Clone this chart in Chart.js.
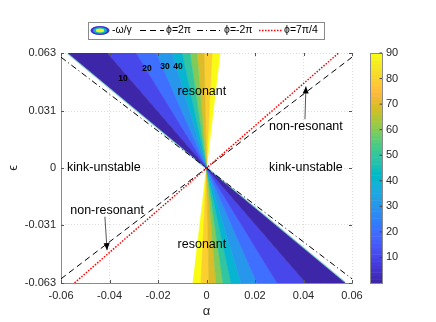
<!DOCTYPE html>
<html>
<head>
<meta charset="utf-8">
<script src="https://cdn.jsdelivr.net/npm/chart.js@4/dist/chart.umd.min.js"></script>
<style>
  html, body { margin: 0; padding: 0; background: #fff; }
  #wrap { width: 436px; height: 322px; }
</style>
</head>
<body>
<div id="wrap"><canvas id="growth" width="436" height="322"></canvas></div>
<script>
// -ω/γ contour levels; edgeAlpha = α where each band edge meets ε = 0.063
// (the lower wedge is the point mirror of the upper one)
const levels = [0, 10, 20, 30, 40, 50, 60, 70, 80, 90];
const edgeAlpha = [-0.0571, -0.0410, -0.0291, -0.0208, -0.0142, -0.0101, -0.0068, -0.0039, -0.0010, 0.0023, 0.0056];
const epsTop = 0.063;

// phase lines eps(alpha)
const lineAlpha = [-0.06, 0.06];
const phi2pi = [-0.0607, 0.0607];
const phiMinus2pi = [0.0607, -0.0607];
const phi7pi4 = [-0.0694, 0.0694];

const xTicks = [-0.06, -0.04, -0.02, 0, 0.02, 0.04, 0.06];
const yTicks = [-0.063, -0.031, 0, 0.031, 0.063];
const yTickLabels = ["-0.063", "-0.031", "0", "0.031", "0.063"];
const cbTicks = [10, 20, 30, 40, 50, 60, 70, 80, 90];
const cbMax = 90;

const legendLabels = ["-ω/γ", "ϕ=2π", "ϕ=-2π", "ϕ=7π/4"];

const notes = [
  { text: "resonant", x: -0.0019, y: 0.0421 },
  { text: "resonant", x: -0.0019, y: -0.0421 },
  { text: "non-resonant", x: 0.041, y: 0.0228 },
  { text: "non-resonant", x: -0.041, y: -0.0234 },
  { text: "kink-unstable", x: -0.0423, y: 0 },
  { text: "kink-unstable", x: 0.041, y: 0 },
];
const contourLabels = [
  { text: "10", x: -0.0344, y: 0.0487 },
  { text: "20", x: -0.0245, y: 0.0542 },
  { text: "30", x: -0.0171, y: 0.0553 },
  { text: "40", x: -0.0118, y: 0.0553 },
];
const arrows = [
  { from: [0.0406, 0.0267], to: [0.041, 0.0447] },
  { from: [-0.0419, -0.0267], to: [-0.041, -0.0450] },
];

// parula, 64 entries
const parulaMap = [
  [0.2422,0.1504,0.6603],[0.2504,0.1650,0.7076],[0.2578,0.1818,0.7511],[0.2647,0.1978,0.7952],
  [0.2706,0.2147,0.8364],[0.2751,0.2342,0.8710],[0.2783,0.2559,0.8991],[0.2803,0.2782,0.9221],
  [0.2813,0.3006,0.9414],[0.2810,0.3228,0.9579],[0.2795,0.3447,0.9717],[0.2760,0.3667,0.9829],
  [0.2699,0.3892,0.9906],[0.2602,0.4123,0.9952],[0.2440,0.4358,0.9988],[0.2206,0.4603,0.9973],
  [0.1963,0.4847,0.9892],[0.1834,0.5074,0.9798],[0.1786,0.5289,0.9682],[0.1764,0.5499,0.9520],
  [0.1687,0.5703,0.9359],[0.1540,0.5902,0.9218],[0.1460,0.6091,0.9079],[0.1380,0.6276,0.8973],
  [0.1248,0.6459,0.8883],[0.1113,0.6635,0.8763],[0.0952,0.6798,0.8598],[0.0689,0.6948,0.8394],
  [0.0297,0.7082,0.8163],[0.0036,0.7203,0.7917],[0.0067,0.7312,0.7660],[0.0433,0.7411,0.7394],
  [0.0964,0.7500,0.7120],[0.1408,0.7584,0.6842],[0.1717,0.7670,0.6554],[0.1938,0.7758,0.6251],
  [0.2161,0.7843,0.5923],[0.2470,0.7918,0.5567],[0.2906,0.7973,0.5188],[0.3406,0.8008,0.4789],
  [0.3909,0.8029,0.4354],[0.4456,0.8024,0.3909],[0.5044,0.7993,0.3480],[0.5616,0.7942,0.3045],
  [0.6174,0.7876,0.2612],[0.6720,0.7793,0.2227],[0.7242,0.7698,0.1910],[0.7738,0.7598,0.1646],
  [0.8203,0.7498,0.1535],[0.8634,0.7406,0.1596],[0.9035,0.7330,0.1774],[0.9393,0.7288,0.2100],
  [0.9728,0.7298,0.2394],[0.9956,0.7434,0.2371],[0.9970,0.7659,0.2199],[0.9952,0.7893,0.2028],
  [0.9892,0.8136,0.1885],[0.9786,0.8386,0.1766],[0.9676,0.8639,0.1643],[0.9610,0.8890,0.1537],
  [0.9597,0.9135,0.1423],[0.9628,0.9373,0.1265],[0.9691,0.9606,0.1064],[0.9769,0.9839,0.0805]
];
function parula(t) {
  const i = Math.max(0, Math.min(63, Math.round(t * 63)));
  const c = parulaMap[i];
  return "rgb(" + c.map(v => Math.round(v * 255)).join(",") + ")";
}

const FONT = "'Liberation Sans', Arial, Helvetica, sans-serif";
const TXT = "#262626";

const bandSets = levels.map((lv, k) => {
  const a0 = edgeAlpha[k], a1 = edgeAlpha[k + 1];
  const c = parula(lv / cbMax);
  return {
    data: [
      { x: 0, y: 0 }, { x: a0, y: epsTop }, { x: a1, y: epsTop }, { x: 0, y: 0 },
      { x: -a0, y: -epsTop }, { x: -a1, y: -epsTop }, { x: 0, y: 0 },
    ],
    showLine: true,
    fill: "shape",
    backgroundColor: c,
    borderColor: c,
    borderWidth: 0.6,
    pointRadius: 0,
    order: 10,
  };
});

// light fringe along the outer edge of the unstable wedge (drawn under the bands)
const fringeSet = {
  data: [
    { x: edgeAlpha[0], y: epsTop }, { x: 0, y: 0 }, { x: -edgeAlpha[0], y: -epsTop },
  ],
  showLine: true,
  fill: false,
  borderColor: "rgba(110,200,190,0.8)",
  borderWidth: 2.6,
  pointRadius: 0,
  order: 11,
};

function lineSet(ys, color, dash, width) {
  return {
    data: lineAlpha.map((a, i) => ({ x: a, y: ys[i] })),
    showLine: true,
    fill: false,
    borderColor: color,
    borderDash: dash,
    borderWidth: width,
    pointRadius: 0,
    order: 1,
  };
}

const extras = {
  id: "extras",
  afterDraw(chart) {
    const ctx = chart.ctx;
    const xs = chart.scales.x, ys = chart.scales.y;
    const area = chart.chartArea;
    ctx.save();

    // inward tick marks on all four sides
    ctx.strokeStyle = "#555";
    ctx.lineWidth = 1;
    ctx.beginPath();
    xTicks.forEach(v => {
      const px = Math.round(xs.getPixelForValue(v)) + 0.5;
      ctx.moveTo(px, area.bottom); ctx.lineTo(px, area.bottom - 3);
      ctx.moveTo(px, area.top); ctx.lineTo(px, area.top + 3);
    });
    yTicks.forEach(v => {
      const py = Math.round(ys.getPixelForValue(v)) + 0.5;
      ctx.moveTo(area.left, py); ctx.lineTo(area.left + 3, py);
      ctx.moveTo(area.right, py); ctx.lineTo(area.right - 3, py);
    });
    ctx.stroke();

    // text notes
    ctx.fillStyle = "#000";
    ctx.textAlign = "center";
    ctx.textBaseline = "middle";
    ctx.font = "12.5px " + FONT;
    notes.forEach(n => ctx.fillText(n.text, xs.getPixelForValue(n.x), ys.getPixelForValue(n.y)));
    ctx.font = "bold 8.5px " + FONT;
    contourLabels.forEach(n => ctx.fillText(n.text, xs.getPixelForValue(n.x), ys.getPixelForValue(n.y)));

    // arrows
    arrows.forEach(a => {
      const x0 = xs.getPixelForValue(a.from[0]), y0 = ys.getPixelForValue(a.from[1]);
      const x1 = xs.getPixelForValue(a.to[0]), y1 = ys.getPixelForValue(a.to[1]);
      const ang = Math.atan2(y1 - y0, x1 - x0);
      ctx.strokeStyle = "#555";
      ctx.lineWidth = 1;
      ctx.beginPath(); ctx.moveTo(x0, y0); ctx.lineTo(x1, y1); ctx.stroke();
      ctx.fillStyle = "#000";
      ctx.beginPath();
      ctx.moveTo(x1, y1);
      ctx.lineTo(x1 - 7 * Math.cos(ang) + 3 * Math.sin(ang), y1 - 7 * Math.sin(ang) - 3 * Math.cos(ang));
      ctx.lineTo(x1 - 7 * Math.cos(ang) - 3 * Math.sin(ang), y1 - 7 * Math.sin(ang) + 3 * Math.cos(ang));
      ctx.closePath(); ctx.fill();
    });

    // colorbar
    const cbL = area.right + 18, cbW = 12, cbT = area.top, cbB = area.bottom;
    const n = parulaMap.length;
    const h = (cbB - cbT) / n;
    for (let i = 0; i < n; i++) {
      ctx.fillStyle = parula(i / (n - 1));
      ctx.fillRect(cbL, cbB - (i + 1) * h, cbW, h + 0.5);
    }
    ctx.strokeStyle = "#8a8a8a";
    ctx.strokeRect(cbL + 0.5, cbT + 0.5, cbW, cbB - cbT);
    ctx.fillStyle = TXT;
    ctx.font = "11px " + FONT;
    ctx.textAlign = "left";
    ctx.strokeStyle = "#444";
    cbTicks.forEach(v => {
      const py = cbB - (v / cbMax) * (cbB - cbT);
      ctx.beginPath(); ctx.moveTo(cbL + cbW, py); ctx.lineTo(cbL + cbW - 2.5, py); ctx.stroke();
      ctx.fillText(String(v), cbL + cbW + 4, py);
    });

    // legend
    const lx = 88, ly = 22, lw = 236, lh = 17, cy = ly + lh / 2;
    ctx.fillStyle = "#fff";
    ctx.fillRect(lx, ly, lw, lh);
    ctx.strokeStyle = "#8a8a8a";
    ctx.lineWidth = 1;
    ctx.strokeRect(lx + 0.5, ly + 0.5, lw, lh);
    const ell = [[9.5, 4.6, parula(0.05)], [7, 3.2, parula(0.45)], [4.2, 1.9, parula(0.97)]];
    ell.forEach(e => {
      ctx.fillStyle = e[2];
      ctx.beginPath(); ctx.ellipse(100, cy, e[0], e[1], 0, 0, Math.PI * 2); ctx.fill();
    });
    ctx.font = "10.5px " + FONT;
    ctx.fillStyle = "#000";
    ctx.textAlign = "left";
    ctx.fillText(legendLabels[0], 112, cy);
    const samples = [
      { x0: 140, x1: 164, color: "#000", dash: [6, 4], w: 1, tx: 166, label: legendLabels[1] },
      { x0: 197, x1: 222, color: "#000", dash: [6, 3, 1, 3], w: 1, tx: 224, label: legendLabels[2] },
      { x0: 259, x1: 282, color: "#ff0000", dash: [1.5, 1.5], w: 1.5, tx: 284, label: legendLabels[3] },
    ];
    samples.forEach(s => {
      ctx.strokeStyle = s.color;
      ctx.lineWidth = s.w;
      ctx.setLineDash(s.dash);
      ctx.beginPath(); ctx.moveTo(s.x0, cy); ctx.lineTo(s.x1, cy); ctx.stroke();
      ctx.setLineDash([]);
      ctx.fillStyle = "#000";
      ctx.fillText(s.label, s.tx, cy);
    });
    ctx.restore();
  },
};

new Chart(document.getElementById("growth"), {
  type: "scatter",
  data: {
    datasets: [
      lineSet(phi7pi4, "#ff0000", [1.5, 1.5], 1.5),
      lineSet(phi2pi, "#000", [6, 4], 1),
      lineSet(phiMinus2pi, "#000", [6, 3, 1, 3], 1),
      ...bandSets,
      fringeSet,
    ],
  },
  options: {
    responsive: false,
    animation: false,
    devicePixelRatio: 1,
    events: [],
    layout: { padding: { top: 53, right: 84, left: 0, bottom: 0 } },
    plugins: { legend: { display: false }, tooltip: { enabled: false } },
    scales: {
      x: {
        type: "linear",
        min: -0.06,
        max: 0.06,
        z: 1,
        afterBuildTicks: s => { s.ticks = xTicks.map(v => ({ value: v })); },
        afterFit: s => { s.height = 39; },
        ticks: {
          color: TXT,
          font: { size: 11, family: FONT },
          padding: 6,
          maxRotation: 0,
          callback: v => (v === 0 ? "0" : v.toFixed(2)),
        },
        grid: { color: "rgba(140,140,140,0.3)", drawTicks: false },
        border: { display: true, color: "#8a8a8a", dash: [1, 2] },
        title: { display: true, text: "α", color: TXT, font: { size: 13, family: FONT }, padding: { top: 0, bottom: 3 } },
      },
      y: {
        type: "linear",
        min: -0.063,
        max: 0.063,
        z: 1,
        afterBuildTicks: s => { s.ticks = yTicks.map(v => ({ value: v })); },
        afterFit: s => { s.width = 61; },
        ticks: {
          color: TXT,
          font: { size: 11, family: FONT },
          padding: 5,
          callback: (v, i) => yTickLabels[i],
        },
        grid: { color: "rgba(140,140,140,0.3)", drawTicks: false },
        border: { display: true, color: "#8a8a8a", dash: [1, 2] },
        title: { display: true, text: "ϵ", color: TXT, font: { size: 13, family: FONT }, padding: { top: 6, bottom: 0 } },
      },
    },
  },
  plugins: [extras],
});
</script>
</body>
</html>
